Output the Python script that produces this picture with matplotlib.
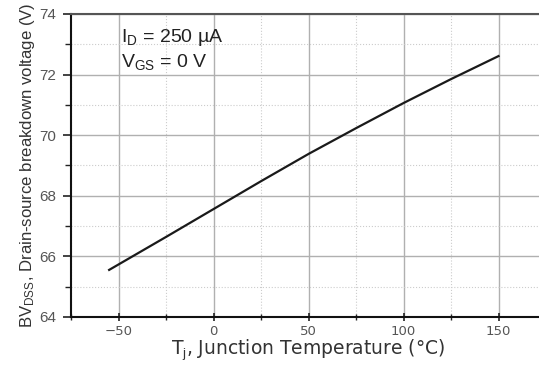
import matplotlib
matplotlib.use("Agg")
import matplotlib.pyplot as plt
from matplotlib.ticker import MultipleLocator

plt.rcParams['font.family'] = ['Liberation Sans', 'DejaVu Sans']
plt.rcParams['mathtext.fontset'] = 'custom'
plt.rcParams['mathtext.rm'] = 'Liberation Sans'
plt.rcParams['mathtext.it'] = 'Liberation Sans'

temperature = [-55, -25, 0, 25, 50, 75, 100, 125, 150]
bv_dss = [65.55, 66.64, 67.56, 68.48, 69.38, 70.23, 71.06, 71.85, 72.61]
x_ticks = [-50, 0, 50, 100, 150]
y_ticks = [64, 66, 68, 70, 72, 74]

fig = plt.figure(figsize=(5.39, 3.68), dpi=100)
ax = fig.add_axes([0.132, 0.139, 0.881, 0.823])
ax.plot(temperature, bv_dss, color='#1a1a1a', lw=1.6)
ax.set_xlim(-75, 175)
ax.set_ylim(64, 74)
ax.set_xticks(x_ticks)
ax.set_yticks(y_ticks)
ax.xaxis.set_minor_locator(MultipleLocator(25))
ax.yaxis.set_minor_locator(MultipleLocator(1))
ax.grid(which='major', color='#b0b0b0', lw=1.0, ls='-')
ax.grid(which='minor', color='#cccccc', lw=0.8, ls=':')
ax.tick_params(axis='y', which='both', direction='out', color='#222222')
ax.tick_params(axis='x', which='both', direction='inout', color='#222222')
ax.tick_params(which='major', length=6, width=1.2, labelcolor='#555555')
ax.tick_params(axis='y', which='major', labelsize=11, pad=5)
ax.tick_params(axis='x', which='major', pad=3)
ax.tick_params(which='minor', length=4, width=1.0)
for lab in ax.get_xticklabels():
    lab.set_fontfamily('DejaVu Sans')
    lab.set_fontsize(9.5)
for s in ['left', 'bottom']:
    ax.spines[s].set_color('#111111')
    ax.spines[s].set_linewidth(1.5)
ax.spines['top'].set_color('#555555')
ax.spines['top'].set_linewidth(1.5)
ax.spines['right'].set_visible(False)

ax.set_xlabel(r'T$_\mathrm{j}$, Junction Temperature (°C)', fontsize=13.5, color='#333333',
              labelpad=0, family='DejaVu Sans')
ax.set_ylabel(r'BV$_\mathrm{DSS}$, Drain-source breakdown voltage (V)', fontsize=12.1, color='#333333')
ax.yaxis.set_label_coords(-0.072, 0.5)
ax.text(-49, 73.24, r'I$_\mathrm{D}$ = 250 µA', fontsize=14, color='#222222', va='center')
ax.text(-49, 72.42, r'V$_\mathrm{GS}$ = 0 V', fontsize=14, color='#222222', va='center')

fig.savefig('out.png', dpi=100)
